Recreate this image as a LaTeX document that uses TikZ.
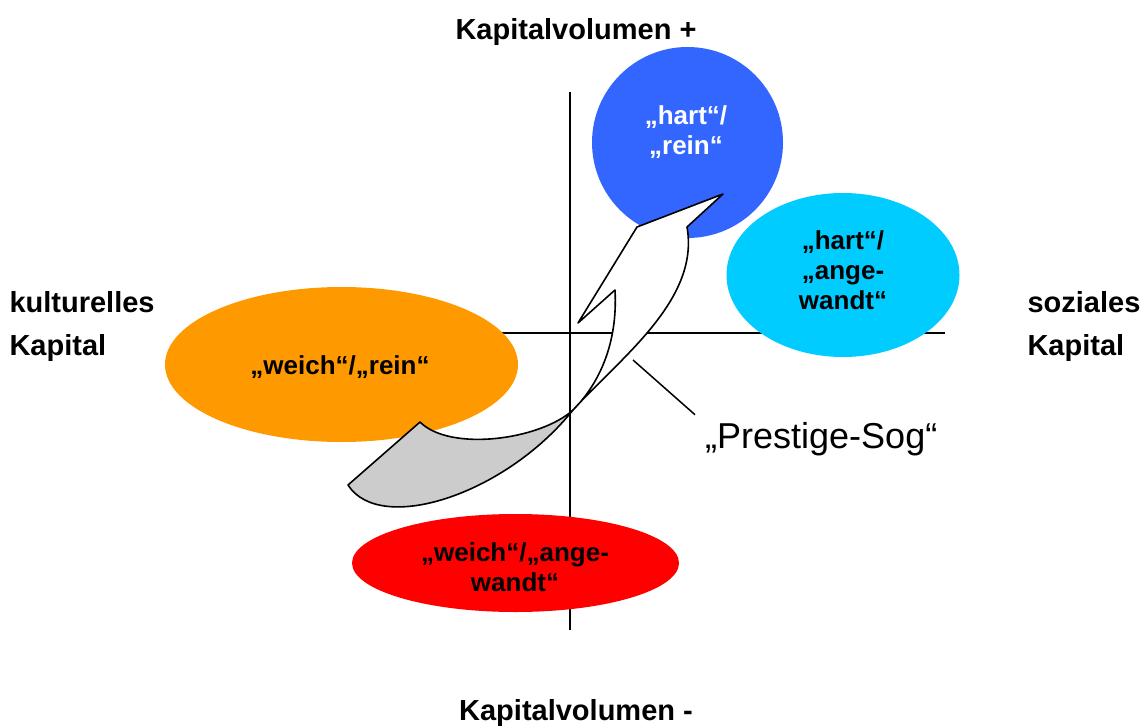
\documentclass[tikz,border=0pt]{standalone}
\usepackage{fontspec}
\setmainfont{Liberation Sans}
\usetikzlibrary{shapes.geometric}

\definecolor{hartrein}{HTML}{3366FF}
\definecolor{hartangew}{HTML}{00CCFF}
\definecolor{weichrein}{HTML}{FF9900}
\definecolor{weichangew}{HTML}{FF0000}
\definecolor{sogback}{HTML}{CCCCCC}

\begin{document}
\begin{tikzpicture}[x=1pt, y=-1pt,
    field/.style={ellipse, draw=none, inner sep=0pt},
    lbl/.style={font=\fontsize{26}{30}\selectfont\bfseries, align=center},
    axlbl/.style={font=\fontsize{29}{43}\selectfont\bfseries, align=left, anchor=west},
    axis/.style={line width=1.5pt},
    ribbon/.style={line width=1.6pt, line join=round}]
      \useasboundingbox (0,0) rectangle (1147,725);
      \draw[axis] (570,92) -- (570,630);
      \draw[axis] (200,333) -- (945,333);
      \node[field, fill=weichrein, minimum width=353pt, minimum height=155pt] (wr) at (341.5,364.5) {};
      \node[field, fill=weichangew, minimum width=327pt, minimum height=98pt] (wa) at (515.5,563) {};
      \node[field, fill=hartrein, minimum width=191pt, minimum height=191pt] (hr) at (687.5,142.5) {};
      \node[field, fill=hartangew, minimum width=233pt, minimum height=164pt] (ha) at (843,275) {};
      \filldraw[ribbon, fill=sogback] (420,422) .. controls (450,452) and (540,440) .. (573,410)
          .. controls (505,495) and (380,535) .. (348,485) -- cycle;
      \filldraw[ribbon, fill=white] (573,410) .. controls (620,358) and (700,300) .. (687,227)
          -- (723,194) -- (637,227) -- (578,323) -- (615,290)
          .. controls (618,345) and (598,385) .. (573,410) -- cycle;
      \node[lbl, text=white] (hrtxt) at (686,132) {„hart“/\\„rein“};
      \node[lbl] (hatxt) at (843,270) {„hart“/\\„ange-\\wandt“};
      \node[lbl] (wrtxt) at (340,367) {„weich“/„rein“};
      \node[lbl] (watxt) at (515,567) {„weich“/„ange-\\wandt“};
      \node[axlbl, anchor=center] (plus) at (576,32) {Kapitalvolumen +};
      \node[axlbl, anchor=center] (minus) at (576,713) {Kapitalvolumen -};
      \node[axlbl] (kult) at (6,326) {kulturelles\\Kapital};
      \node[axlbl] (soz) at (1024,326) {soziales\\Kapital};
      \node[anchor=base west, inner sep=0pt, font=\fontsize{36}{40}\selectfont] (sog) at (705,448) {„Prestige-Sog“};
      \coordinate (sogpt) at (633,360);
      \draw[line width=1.5pt] (sogpt) -- ([xshift=-10pt, yshift=7pt]sog.north west);
\end{tikzpicture}
\end{document}
